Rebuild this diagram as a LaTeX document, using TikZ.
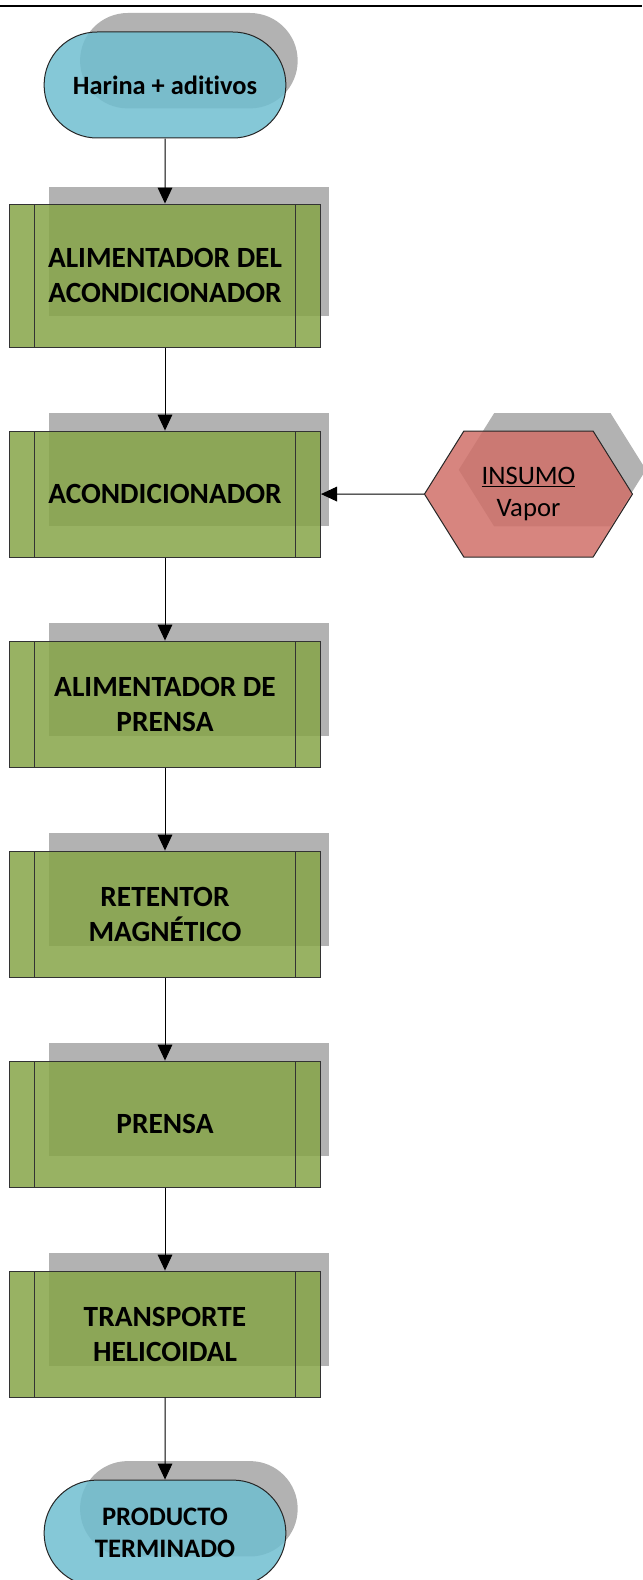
\documentclass[tikz,border=0pt]{standalone}
\usepackage{fontspec}
\setmainfont{Carlito}[Ligatures=NoCommon]
\usetikzlibrary{arrows.meta,shapes.misc,shapes.symbols,shadows,positioning}
\definecolor{shadowgray}{RGB}{178,178,178}
\definecolor{procgreen}{RGB}{134,164,72}
\definecolor{termblue}{RGB}{112,190,208}
\definecolor{inputred}{RGB}{208,112,105}
\tikzset{grayshadow/.style={general shadow={fill=shadowgray, fill opacity=1, shadow scale=0.9, shadow xshift=19.9pt, shadow yshift=20.25pt}}}
\tikzstyle{proc}=[rectangle, draw=black!80, line width=0.75pt, fill=procgreen, fill opacity=0.85, text opacity=1, grayshadow,
  minimum width=233.25pt, minimum height=94.5pt, align=center, font=\bfseries\fontsize{22}{26.25}\selectfont,
  path picture={\draw[black!80, line width=0.75pt]
    ([xshift=18.75pt]path picture bounding box.north west) -- ([xshift=18.75pt]path picture bounding box.south west)
    ([xshift=-18.75pt]path picture bounding box.north east) -- ([xshift=-18.75pt]path picture bounding box.south east);}]
\tikzstyle{term}=[rounded rectangle, draw=black!85, line width=0.75pt, fill=termblue, fill opacity=0.85, text opacity=1, grayshadow,
  minimum width=188pt, minimum height=79.5pt, align=center, font=\bfseries\fontsize{20}{24}\selectfont]
\tikzstyle{insumo}=[signal, signal to=west and east, signal pointer angle=116, draw=black!85, line width=0.75pt, fill=inputred,
  fill opacity=0.85, text opacity=1, grayshadow, minimum width=156pt, minimum height=94.5pt, align=center,
  font=\fontsize{20}{24.4}\selectfont]

\begin{document}
\begin{tikzpicture}[x=0.75pt, y=-0.75pt, >={Triangle[width=11pt,length=12pt]}, node distance=157.5pt]
\useasboundingbox (0,0) rectangle (642,1580);
\coordinate (topL) at (0,6);
\coordinate (topR) at (642,6);
\draw[line width=1.5pt] (topL) -- (topR);

\node[term, font=\bfseries\fontsize{19.8}{23}\selectfont] (inicio) at (165,85) {Harina + aditivos};
\node[proc, minimum height=107.25pt, below of=inicio, node distance=142.9pt] (alimacond) {ALIMENTADOR DEL\\ACONDICIONADOR};
\node[proc, below of=alimacond, node distance=163.9pt] (acond) {ACONDICIONADOR};
\node[proc, below of=acond] (alimprensa) {ALIMENTADOR DE\\PRENSA};
\node[proc, below of=alimprensa] (retentor) {RETENTOR\\MAGNÉTICO};
\node[proc, below of=retentor] (prensa) {PRENSA};
\node[proc, below of=prensa] (transporte) {TRANSPORTE\\HELICOIDAL};
\node[term, below of=transporte, node distance=149.25pt] (producto) {PRODUCTO\\TERMINADO};
\node[insumo, right of=acond, node distance=272.6pt] (vapor) {\underline{INSUMO}\\Vapor};

\path[->, line width=0.75pt] (inicio) edge (alimacond)
  (alimacond) edge (acond)
  (acond) edge (alimprensa)
  (alimprensa) edge (retentor)
  (retentor) edge (prensa)
  (prensa) edge (transporte)
  (transporte) edge (producto)
  (vapor) edge (acond);
\end{tikzpicture}
\end{document}
